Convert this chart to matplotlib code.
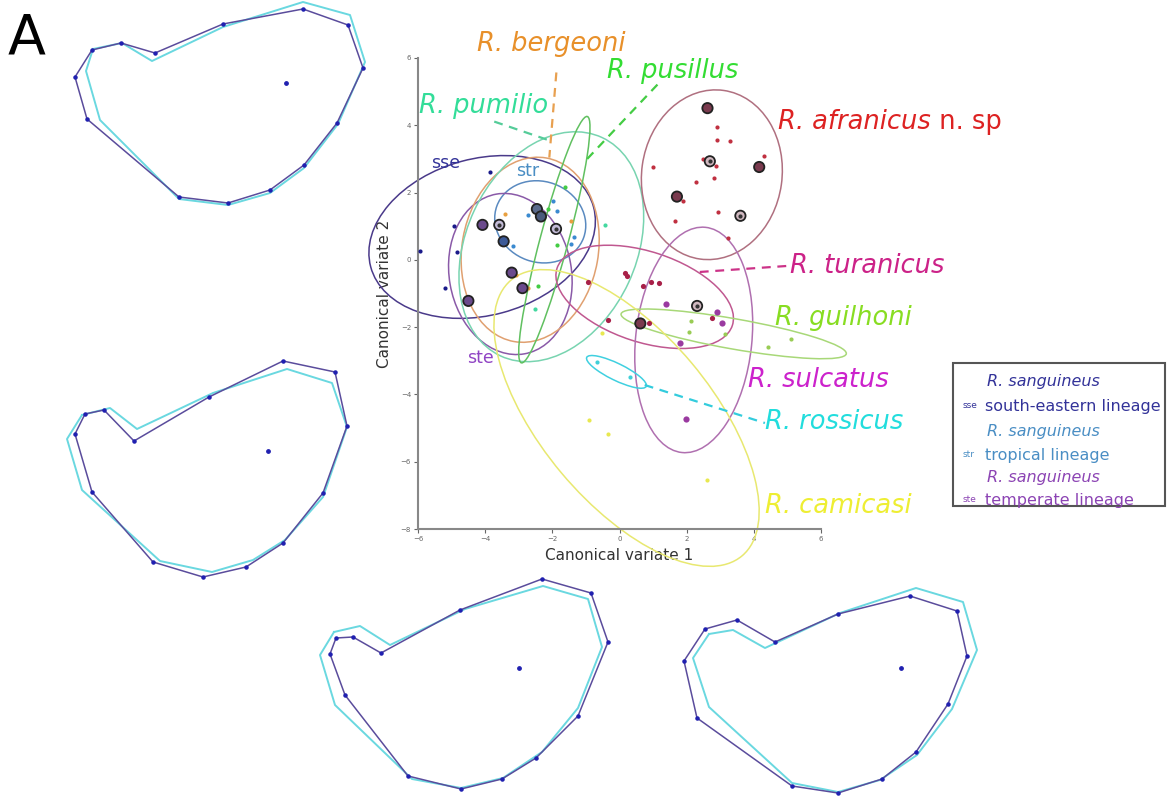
import matplotlib
matplotlib.use("Agg")
import matplotlib.pyplot as plt
from matplotlib.patches import Ellipse, Rectangle

# ---------------- data: canonical variate scores ----------------
sse_x = [-3.86, -4.93, -4.83, -5.19, -5.95]
sse_y = [2.62, 1.01, 0.24, -0.83, 0.25]
str_x = [-1.99, -1.86, -2.71, -3.16, -1.36, -1.44]
str_y = [1.76, 1.46, 1.32, 0.40, 0.69, 0.47]
bergeoni_x = [-3.41, -1.44, -3.08, -2.71]
bergeoni_y = [1.37, 1.16, -0.45, -0.84]
pusillus_x = [-1.61, -2.14, -1.86, -2.44]
pusillus_y = [2.18, 1.52, 0.45, -0.79]
pumilio_x = [-0.43, -2.51]
pumilio_y = [1.04, -1.47]
afranicus_x = [2.89, 2.90, 3.28, 4.31, 2.49, 2.86, 1.01, 2.82, 2.29, 1.89, 2.93, 1.64, 3.23]
afranicus_y = [3.94, 3.57, 3.52, 3.10, 3.00, 2.80, 2.75, 2.43, 2.30, 1.76, 1.42, 1.16, 0.66]
turanicus_x = [0.15, 0.23, -0.95, 0.70, 0.95, 1.19, -0.35, 0.87, 2.74]
turanicus_y = [-0.40, -0.48, -0.67, -0.79, -0.67, -0.69, -1.79, -1.87, -1.72]
sulcatus_x = [1.39, 2.89, 3.04, 1.81, 1.97]
sulcatus_y = [-1.32, -1.54, -1.89, -2.48, -4.74]
guilhoni_x = [2.14, 2.07, 3.13, 4.43, 5.10]
guilhoni_y = [-1.81, -2.13, -2.21, -2.60, -2.36]
rossicus_x = [-0.67, 0.32]
rossicus_y = [-3.05, -3.49]
camicasi_x = [-0.52, -0.90, -0.35, 2.61]
camicasi_y = [-2.16, -4.76, -5.19, -6.53]

# highlighted specimens (large circled markers)
big_x = [-4.08, -3.58, -3.45, -2.46, -2.34, -1.89, -3.21, -2.89, -4.50,
         2.62, 2.69, 4.16, 1.71, 3.60, 0.62, 2.31]
big_y = [1.04, 1.04, 0.55, 1.51, 1.29, 0.92, -0.38, -0.84, -1.22,
         4.51, 2.93, 2.76, 1.88, 1.31, -1.89, -1.37]
big_fill = ['#6a4a8c', '#c4bcd8', '#3c5a98', '#5a6a8c', '#4a5a7c', '#c4bcd8', '#6a4a8c', '#6a4a8c', '#6a4a8c',
            '#7a3a4e', '#d0b8c0', '#7a3a4e', '#7a3a4e', '#d0b8c0', '#7a3a4e', '#d0b8c0']
big_dot = [0, 1, 0, 0, 0, 1, 0, 0, 0, 0, 1, 0, 0, 1, 0, 1]

# 90% ellipses: centre x, centre y, width, height, angle
ellipses = {
    'sse':       (-4.09, 0.68, 6.87, 4.66, 15),
    'str':       (-2.36, 1.13, 2.75, 2.40, -20),
    'ste':       (-3.25, -0.42, 3.64, 4.82, 10),
    'bergeoni':  (-2.66, 0.30, 4.06, 5.54, -10),
    'pumilio':   (-2.03, 0.39, 7.16, 5.07, 65),
    'pusillus':  (-1.94, 0.60, 7.58, 0.84, 75),
    'afranicus': (2.75, 2.53, 4.18, 5.06, -8),
    'turanicus': (0.75, -1.10, 5.49, 2.69, -18),
    'sulcatus':  (2.21, -2.38, 3.46, 6.73, -6),
    'guilhoni':  (3.40, -2.20, 6.81, 0.90, -10),
    'rossicus':  (-0.09, -3.33, 1.97, 0.50, -26),
    'camicasi':  (0.21, -4.70, 10.70, 5.07, -50),
}

x_ticks = [-6, -4, -2, 0, 2, 4, 6]
y_ticks = [-8, -6, -4, -2, 0, 2, 4, 6]

# landmark outlines (deformation grids), figure pixel space
o1_dark = [(92, 50), (121, 43), (155, 53), (223, 24), (303, 9), (348, 25), (363, 68), (337, 123),
           (304, 165), (270, 190), (228, 203), (179, 197), (87, 119), (75, 77)]
o1_cyan = [(93, 49), (122, 43), (152, 61), (223, 27), (303, 2), (350, 15), (365, 62), (338, 124),
           (304, 168), (270, 193), (228, 205), (179, 199), (100, 120), (86, 71)]
o1_centre = (286, 83)
o2_dark = [(85, 414), (104, 410), (134, 441), (209, 397), (283, 361), (335, 372), (347, 426), (323, 493),
           (283, 543), (246, 567), (203, 577), (153, 562), (92, 492), (75, 434)]
o2_cyan = [(82, 415), (110, 408), (137, 429), (213, 393), (287, 369), (332, 383), (347, 427), (323, 497),
           (285, 540), (253, 560), (212, 572), (160, 561), (82, 490), (67, 439)]
o2_centre = (268, 451)
o3_dark = [(336, 638), (353, 637), (381, 653), (460, 610), (542, 579), (591, 593), (608, 642), (578, 716),
           (536, 758), (502, 779), (461, 789), (408, 776), (345, 695), (330, 654)]
o3_cyan = [(334, 632), (360, 626), (390, 645), (465, 609), (543, 586), (588, 599), (602, 647), (578, 708),
           (542, 752), (503, 778), (461, 788), (412, 779), (335, 705), (320, 655)]
o3_centre = (519, 668)
o4_dark = [(705, 629), (737, 620), (775, 642), (838, 614), (910, 596), (957, 611), (967, 656), (948, 704),
           (916, 752), (882, 779), (838, 793), (792, 786), (697, 718), (684, 661)]
o4_cyan = [(709, 634), (733, 630), (765, 648), (840, 613), (916, 588), (963, 602), (977, 650), (952, 709),
           (917, 755), (880, 780), (838, 792), (792, 783), (709, 707), (693, 658)]
o4_centre = (901, 668)

# ---------------- styles ----------------
pt_col = {'sse': '#1a1a8a', 'str': '#3a8ad0', 'bergeoni': '#e8a040', 'pusillus': '#44cc44',
          'pumilio': '#44d8a0', 'afranicus': '#c03040', 'turanicus': '#a82048', 'sulcatus': '#9a3aa0',
          'guilhoni': '#99cc55', 'rossicus': '#40d0d8', 'camicasi': '#e8e850'}
el_col = {'sse': '#4a3a8a', 'str': '#5a8ac0', 'ste': '#8a5aa8', 'bergeoni': '#e0a070',
          'pumilio': '#78d4b0', 'pusillus': '#60c060', 'afranicus': '#b07080', 'turanicus': '#c05890',
          'sulcatus': '#b070b0', 'guilhoni': '#a8d878', 'rossicus': '#40d0e0', 'camicasi': '#e8e870'}

fig = plt.figure(figsize=(11.76, 7.97), dpi=100)
fig.patch.set_facecolor('white')

ax_bg = fig.add_axes([0, 0, 1, 1])
ax_bg.set_xlim(0, 1176)
ax_bg.set_ylim(797, 0)
ax_bg.axis('off')

for dark, cyan, centre in [(o1_dark, o1_cyan, o1_centre), (o2_dark, o2_cyan, o2_centre),
                           (o3_dark, o3_cyan, o3_centre), (o4_dark, o4_cyan, o4_centre)]:
    cx = [p[0] for p in cyan] + [cyan[0][0]]
    cy = [p[1] for p in cyan] + [cyan[0][1]]
    ax_bg.plot(cx, cy, color='#6ad8e0', lw=1.4, zorder=1)
    dx = [p[0] for p in dark] + [dark[0][0]]
    dy = [p[1] for p in dark] + [dark[0][1]]
    ax_bg.plot(dx, dy, color='#5a4c9c', lw=1.1, zorder=2)
    ax_bg.scatter(dx[:-1], dy[:-1], s=5, color='#2020b0', zorder=3)
    ax_bg.scatter([centre[0]], [centre[1]], s=6, color='#2020b0', zorder=3)

ax_bg.text(8, 38, 'A', fontsize=40, color='black', va='center', ha='left')

# legend box
ax_bg.add_patch(Rectangle((953, 363), 212, 143, fill=False, edgecolor='#555555', lw=1.5))
leg = [('sse', 'south-eastern lineage', '#333399', 381, 406),
       ('str', 'tropical lineage', '#4a8ec4', 431, 455),
       ('ste', 'temperate lineage', '#8c44b4', 477, 500)]
for code, txt, col, y1, y2 in leg:
    ax_bg.text(987, y1, 'R. sanguineus', fontsize=11.5, style='italic', color=col, va='center', ha='left')
    ax_bg.text(963, y2 - 1, code, fontsize=6.5, color=col, va='center', ha='left')
    ax_bg.text(985, y2, txt, fontsize=11.5, color=col, va='center', ha='left')

# ---------------- main scatter ----------------
ax = fig.add_axes([418 / 1176, 1 - 529 / 797, (821 - 418) / 1176, (529 - 58) / 797])
ax.set_facecolor('none')
ax.set_xlim(-6, 6)
ax.set_ylim(-8, 6)
for s in ['top', 'right']:
    ax.spines[s].set_visible(False)
for s in ['left', 'bottom']:
    ax.spines[s].set_color('#888888')
    ax.spines[s].set_linewidth(1.5)
ax.set_xticks(x_ticks)
ax.set_yticks(y_ticks)
ax.tick_params(axis='both', labelsize=5, colors='#666666', length=3, width=0.8, pad=2)
ax.set_xlabel('Canonical variate 1', fontsize=11, color='#333333', labelpad=4)
ax.set_ylabel('Canonical variate 2', fontsize=11, color='#333333', labelpad=6)

for name, (cx, cy, w, h, ang) in ellipses.items():
    e = Ellipse((cx, cy), w, h, angle=ang, fill=False, edgecolor=el_col[name], lw=1.1,
                clip_on=False, zorder=2)
    ax.add_patch(e)

groups = [('sse', sse_x, sse_y, 9), ('str', str_x, str_y, 9), ('bergeoni', bergeoni_x, bergeoni_y, 9),
          ('pusillus', pusillus_x, pusillus_y, 9), ('pumilio', pumilio_x, pumilio_y, 9),
          ('afranicus', afranicus_x, afranicus_y, 9), ('turanicus', turanicus_x, turanicus_y, 14),
          ('sulcatus', sulcatus_x, sulcatus_y, 20), ('guilhoni', guilhoni_x, guilhoni_y, 9),
          ('rossicus', rossicus_x, rossicus_y, 9), ('camicasi', camicasi_x, camicasi_y, 9)]
for name, xs, ys, sz in groups:
    ax.scatter(xs, ys, s=sz, color=pt_col[name], zorder=4, clip_on=False, linewidths=0)

ax.scatter(big_x, big_y, s=55, c=big_fill, edgecolors='#222222', linewidths=1.3, zorder=5)
ax.scatter([x for x, d in zip(big_x, big_dot) if d], [y for y, d in zip(big_y, big_dot) if d],
           s=4, color='#333333', zorder=6)

# species labels with dashed leaders
FS = 18.5
labels = [('R. bergeoni', -4.24, 6.43, '#e8902a'),
          ('R. pusillus', -0.36, 5.60, '#33dd33'),
          ('R. pumilio', -5.97, 4.58, '#33dd99'),
          ('R. turanicus', 5.07, -0.18, '#cc2288'),
          ('R. guilhoni', 4.63, -1.73, '#88dd22'),
          ('R. sulcatus', 3.82, -3.57, '#cc22cc'),
          ('R. rossicus', 4.33, -4.82, '#22dddd'),
          ('R. camicasi', 4.33, -7.32, '#eeee33')]
for txt, x, y, col in labels:
    ax.text(x, y, txt, fontsize=FS, style='italic', color=col, va='center', ha='left', zorder=7)

t_af = ax.text(4.72, 4.11, 'R. afranicus', fontsize=FS, style='italic', color='#dd2222',
               va='center', ha='left', zorder=7)
fig.canvas.draw()
bb = t_af.get_window_extent(renderer=fig.canvas.get_renderer())
ax.annotate(' n. sp', xy=(bb.x1, (bb.y0 + bb.y1) / 2), xycoords='figure pixels',
            fontsize=FS, color='#dd2222', va='center', ha='left', annotation_clip=False)

ax.text(-5.61, 2.89, 'sse', fontsize=12.5, color='#333399', va='center', ha='left', zorder=7)
ax.text(-3.07, 2.65, 'str', fontsize=12.5, color='#4a8ec4', va='center', ha='left', zorder=7)
ax.text(-4.54, -2.92, 'ste', fontsize=12.5, color='#9044c4', va='center', ha='left', zorder=7)

leaders = [((-1.88, 5.57), (-2.09, 3.04), '#e8a050'),
           ((1.13, 5.21), (-0.99, 2.97), '#44cc44'),
           ((-3.73, 4.11), (-2.06, 3.54), '#55cc99'),
           ((2.39, -0.36), (5.01, -0.18), '#cc3388'),
           ((0.75, -3.72), (4.33, -4.85), '#33ccdd')]
for (x0, y0), (x1, y1), col in leaders:
    ax.plot([x0, x1], [y0, y1], color=col, lw=1.6, ls=(0, (4, 3)), clip_on=False, zorder=3)

fig.savefig('out.png', dpi=100, facecolor='white')
